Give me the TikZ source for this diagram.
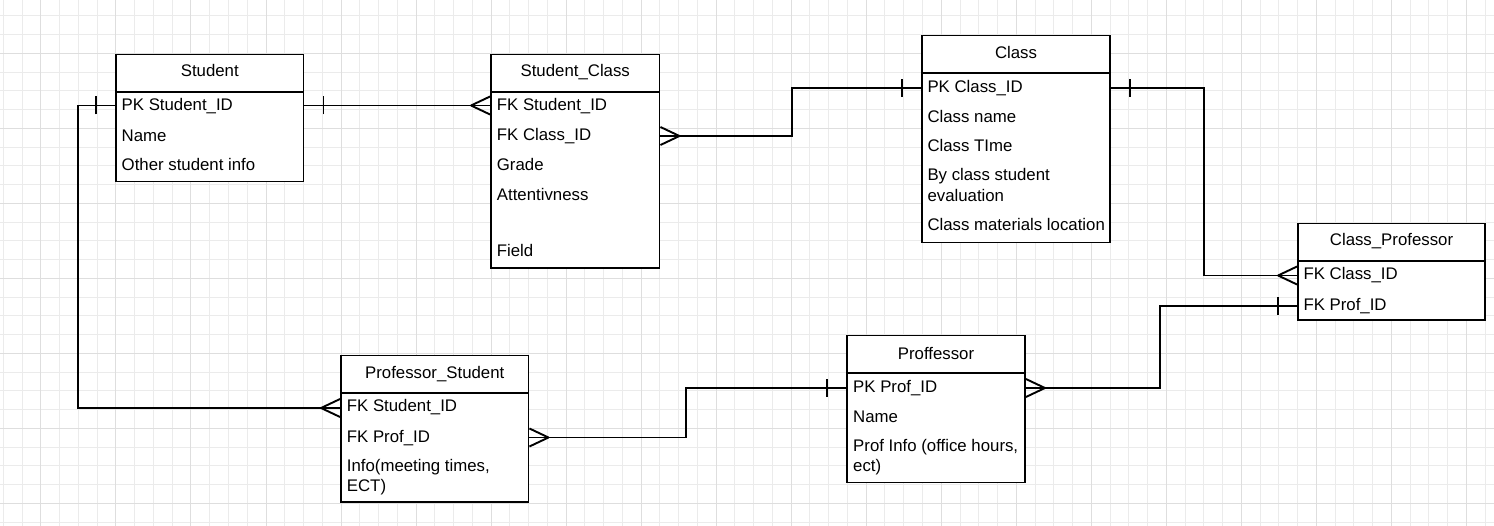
\documentclass[tikz,border=0pt]{standalone}
\usepackage{fontspec}
\setmainfont{Liberation Sans}
\usetikzlibrary{calc}
\definecolor{gridlight}{HTML}{EBEBEB}
\definecolor{griddark}{HTML}{DEDEDE}
\newcommand\erfont{\fontsize{16.8}{20}\selectfont}
\tikzset{
  tbl/.style={draw=black, fill=white, line width=1.9pt, rectangle, inner sep=0pt},
  conn/.style={draw=black, line width=1.9pt},
  ttl/.style={anchor=base, inner sep=0pt, font=\erfont},
  fld/.style={anchor=base west, inner sep=0pt, font=\erfont},
  gl/.style={draw=gridlight, line width=0.8pt},
  gd/.style={draw=griddark, line width=0.8pt},
}
\newcommand\crowfoot[2]{\draw[conn] ($(#1)+(#2*19,0)$) -- ($(#1)+(0,9)$) ($(#1)+(#2*19,0)$) -- ($(#1)+(0,-9)$);}
\newcommand\onetick[2]{\draw[conn] ($(#1)+(#2*19,9)$) -- ($(#1)+(#2*19,-9)$);}
\begin{document}
\begin{tikzpicture}[x=1pt, y=-1pt]
\useasboundingbox (0,0) rectangle (1494,526);
\fill[white] (0,0) rectangle (1494,526);
% grid
\foreach \k in {0,...,79} { \pgfmathsetmacro\gx{3.3+18.757*\k} \draw[gl] (\gx,0) -- (\gx,526); }
\foreach \k in {0,...,27} { \pgfmathsetmacro\gy{15.7+18.757*\k} \draw[gl] (0,\gy) -- (1494,\gy); }
\foreach \k in {2,6,...,78} { \pgfmathsetmacro\gx{3.3+18.757*\k} \draw[gd] (\gx,0) -- (\gx,526); }
\foreach \k in {2,6,...,26} { \pgfmathsetmacro\gy{15.7+18.757*\k} \draw[gd] (0,\gy) -- (1494,\gy); }

% Student
\node[tbl, minimum width=187.5pt, minimum height=127pt] (student) at (209.75,118) {};
\draw[conn] (student.west |- 0,92) -- (student.east |- 0,92);
\node[ttl] (studentT) at (209.75,77) {Student};
\node[fld] (studentR1) at (121.5,111) {PK Student\_ID};
\node[fld] (studentR2) at (121.5,141.5) {Name};
\node[fld] (studentR3) at (121.5,171) {Other student info};

% Student_Class
\node[tbl, minimum width=168.5pt, minimum height=213.5pt] (sc) at (575.25,161.25) {};
\draw[conn] (sc.west |- 0,92) -- (sc.east |- 0,92);
\node[ttl] (scT) at (575.25,77) {Student\_Class};
\node[fld] (scR1) at (496.7,111) {FK Student\_ID};
\node[fld] (scR2) at (496.7,141) {FK Class\_ID};
\node[fld] (scR3) at (496.7,171) {Grade};
\node[fld] (scR4) at (496.7,200.3) {Attentivness};
\node[fld] (scR5) at (496.7,256.7) {Field};

% Class
\node[tbl, minimum width=188pt, minimum height=207pt] (cls) at (1016,139) {};
\draw[conn] (cls.west |- 0,73) -- (cls.east |- 0,73);
\node[ttl] (clsT) at (1016,58.5) {Class};
\node[fld] (clsR1) at (927.3,92.7) {PK Class\_ID};
\node[fld] (clsR2) at (927.3,122.7) {Class name};
\node[fld] (clsR3) at (927.3,152) {Class TIme};
\node[fld] (clsR4) at (927.3,181) {By class student};
\node[fld] (clsR4b) at (927.3,201.7) {evaluation};
\node[fld] (clsR5) at (927.3,231) {Class materials location};

% Class_Professor
\node[tbl, minimum width=187pt, minimum height=96.5pt] (cp) at (1391.5,271.75) {};
\draw[conn] (cp.west |- 0,261) -- (cp.east |- 0,261);
\node[ttl] (cpT) at (1391.5,246) {Class\_Professor};
\node[fld] (cpR1) at (1303.3,280) {FK Class\_ID};
\node[fld] (cpR2) at (1303.3,311) {FK Prof\_ID};

% Professor_Student
\node[tbl, minimum width=187.5pt, minimum height=146.5pt] (ps) at (434.75,428.75) {};
\draw[conn] (ps.west |- 0,393) -- (ps.east |- 0,393);
\node[ttl] (psT) at (434.75,378.3) {Professor\_Student};
\node[fld] (psR1) at (346.7,412) {FK Student\_ID};
\node[fld] (psR2) at (346.7,442.3) {FK Prof\_ID};
\node[fld] (psR3) at (346.7,471.7) {Info(meeting times,};
\node[fld] (psR3b) at (346.7,491.7) {ECT)};

% Proffessor
\node[tbl, minimum width=178pt, minimum height=147pt] (prof) at (936,409) {};
\draw[conn] (prof.west |- 0,373) -- (prof.east |- 0,373);
\node[ttl] (profT) at (936,359.3) {Proffessor};
\node[fld] (profR1) at (853,392.7) {PK Prof\_ID};
\node[fld] (profR2) at (853,422.3) {Name};
\node[fld] (profR3) at (853,451.7) {Prof Info (office hours,};
\node[fld] (profR3b) at (853,471.7) {ect)};

% connectors
\coordinate (p1) at (student.east |- 0,105.5);
\coordinate (p2) at (sc.west |- 0,105.5);
\draw[conn] (p1) -- (p2);
\onetick{p1}{1}
\crowfoot{p2}{-1}

\coordinate (p3) at (sc.east |- 0,136);
\coordinate (p4) at (cls.west |- 0,88);
\draw[conn] (p3) -- ++(131.5,0) |- (p4);
\crowfoot{p3}{1}
\onetick{p4}{-1}

\coordinate (p5) at (cls.east |- 0,88);
\coordinate (p6) at (cp.west |- 0,275.5);
\draw[conn] (p5) -- ++(93,0) |- (p6);
\onetick{p5}{1}
\crowfoot{p6}{-1}

\coordinate (p7) at (cp.west |- 0,306);
\coordinate (p8) at (prof.east |- 0,388);
\draw[conn] (p7) -- ++(-137,0) |- (p8);
\onetick{p7}{-1}
\crowfoot{p8}{1}

\coordinate (p9) at (prof.west |- 0,388);
\coordinate (p10) at (ps.east |- 0,437.5);
\draw[conn] (p9) -- ++(-160,0) |- (p10);
\onetick{p9}{-1}
\crowfoot{p10}{1}

\coordinate (p11) at (student.west |- 0,105.5);
\coordinate (p12) at (ps.west |- 0,408);
\draw[conn] (p11) -- ++(-37.5,0) |- (p12);
\onetick{p11}{-1}
\crowfoot{p12}{-1}
\end{tikzpicture}
\end{document}
